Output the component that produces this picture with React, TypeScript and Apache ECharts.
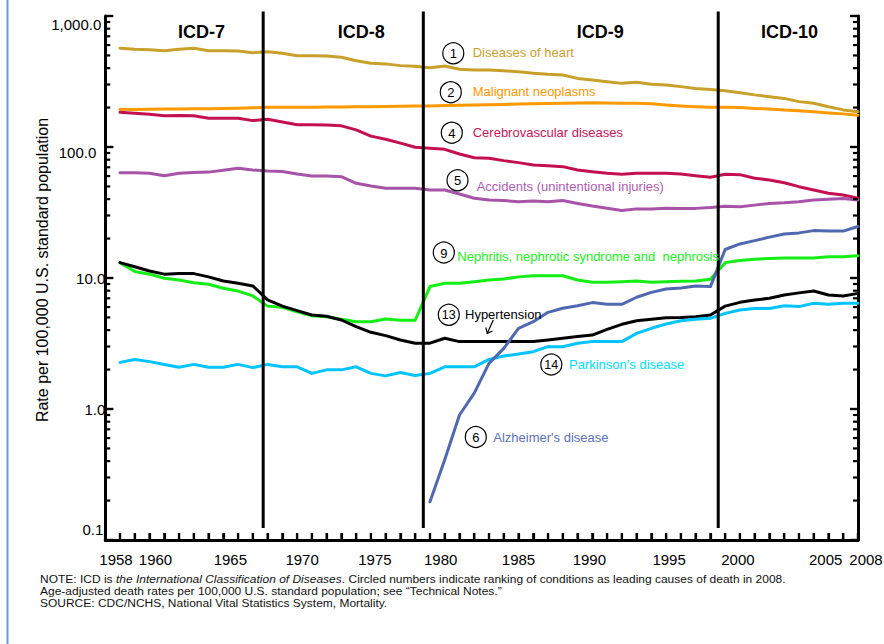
import React, { useEffect, useRef } from "react";
import * as echarts from "echarts";

// ---------------- data ----------------
const YEARS = [
  1958, 1959, 1960, 1961, 1962, 1963, 1964, 1965, 1966, 1967, 1968, 1969, 1970,
  1971, 1972, 1973, 1974, 1975, 1976, 1977, 1978, 1979, 1980, 1981, 1982, 1983,
  1984, 1985, 1986, 1987, 1988, 1989, 1990, 1991, 1992, 1993, 1994, 1995, 1996,
  1997, 1998, 1999, 2000, 2001, 2002, 2003, 2004, 2005, 2006, 2007, 2008,
];

const HEART = [
  567, 557, 553, 543, 557, 567, 543, 543, 541, 525, 534, 519, 498, 498, 496, 484,
  456, 436, 431, 418, 413, 403, 415, 392, 387, 387, 382, 376, 366, 359, 355, 334,
  325, 315, 306, 312, 301, 297, 289, 280, 275, 269, 260, 250, 242, 235, 222, 216,
  203, 192, 186,
];
const MALIGNANT = [
  194, 193, 194, 195, 195, 196, 196, 197, 198, 199, 201, 201, 201, 201, 202, 202,
  203, 203, 204, 205, 206, 206, 207, 208, 209, 210, 211, 213, 214, 215, 216, 217,
  218, 217, 216, 216, 214, 209, 206, 203, 201, 201, 200, 197, 195, 192, 189, 186,
  182, 179, 175,
];
const CEREBRO = [
  184, 181, 178, 173, 174, 173, 166, 166, 166, 159, 163, 155, 148, 148, 147, 145,
  135, 121, 114.5, 107, 99.5, 97.8, 96, 88.5, 82.8, 82, 78.7, 76, 73, 72, 70.8,
  66.8, 64.7, 63, 62, 63, 63, 63, 62.3, 60.4, 58.7, 62, 61.5, 57.7, 56, 53.4,
  49.8, 47, 44.3, 43, 40.6,
];
const ACCIDENTS = [
  63.7, 63.7, 63, 60.4, 63, 64, 64.3, 66.4, 68.7, 66.8, 65.6, 65, 62.2, 60.1, 60,
  59.3, 52.8, 50.4, 48.4, 48.4, 48.4, 47, 47, 43.8, 40.6, 39.4, 39, 38.2, 38.7,
  38.2, 39, 37.1, 35.4, 34.1, 32.7, 33.7, 33.7, 34.1, 34, 34, 34.5, 35.3, 35, 36,
  37.1, 37.5, 38.2, 39.4, 40, 40.5, 39.4,
];
const NEPHRITIS = [
  13.1, 11.2, 10.7, 9.95, 9.66, 9.2, 8.95, 8.35, 7.95, 7.3, 6.1, 5.97, 5.53, 5.15,
  5.05, 4.84, 4.64, 4.64, 4.86, 4.76, 4.76, 8.6, 9.12, 9.12, 9.38, 9.66, 9.83,
  10.2, 10.4, 10.4, 10.4, 9.66, 9.27, 9.27, 9.38, 9.48, 9.27, 9.38, 9.45, 9.5,
  9.77, 13.1, 13.6, 13.9, 14.1, 14.2, 14.2, 14.2, 14.5, 14.5, 14.8,
];
const HYPERTENSION = [
  13.1, 12.2, 11.3, 10.7, 10.8, 10.8, 10.2, 9.48, 9.12, 8.7, 6.8, 6.1, 5.63, 5.22,
  5.1, 4.78, 4.25, 3.85, 3.63, 3.36, 3.18, 3.18, 3.47, 3.27, 3.27, 3.27, 3.27,
  3.27, 3.27, 3.36, 3.47, 3.57, 3.67, 4.05, 4.43, 4.72, 4.84, 4.97, 5.0, 5.07,
  5.22, 6.1, 6.52, 6.8, 7.0, 7.41, 7.7, 7.96, 7.41, 7.3, 7.63,
];
const PARKINSON = [
  2.27, 2.39, 2.3, 2.19, 2.08, 2.19, 2.08, 2.08, 2.19, 2.07, 2.19, 2.1, 2.1, 1.87,
  1.99, 1.99, 2.1, 1.87, 1.79, 1.9, 1.8, 1.87, 2.1, 2.1, 2.1, 2.39, 2.54, 2.63,
  2.74, 2.99, 2.99, 3.18, 3.27, 3.27, 3.27, 3.78, 4.13, 4.46, 4.72, 4.84, 4.92,
  5.37, 5.7, 5.85, 5.85, 6.15, 6.05, 6.41, 6.3, 6.41, 6.41,
];
const ALZHEIMER = [
  null, null, null, null, null, null, null, null, null, null, null, null, null,
  null, null, null, null, null, null, null, null, 0.196, 0.41, 0.9, 1.32, 2.23,
  2.9, 4.13, 4.64, 5.47, 5.87, 6.15, 6.49, 6.3, 6.3, 7.13, 7.77, 8.24, 8.4, 8.7,
  8.6, 16.5, 18.2, 19.3, 20.5, 21.7, 22.1, 23, 22.8, 22.8, 24.7,
];

// ICD revision boundaries (year) and labels
const ICD_BOUNDARIES = [1967.7, 1978.55, 1998.53];
const ICD_LABELS = ["ICD-7", "ICD-8", "ICD-9", "ICD-10"];

// axis ticks and tick labels
const X_LABEL_YEARS = [1958, 1960, 1965, 1970, 1975, 1980, 1985, 1990, 1995, 2000, 2005, 2008];
const Y_TICK_TEXT = ["0.1", "1.0", "10.0", "100.0", "1,000.0"];
const Y_MAJOR_TICKS = [0.1, 1, 10, 100, 1000];
const Y_MINOR_TICKS = [
  0.2, 0.3, 0.4, 0.5, 0.6, 0.7, 0.8, 0.9, 2, 3, 4, 5, 6, 7, 8, 9, 20, 30, 40, 50,
  60, 70, 80, 90, 200, 300, 400, 500, 600, 700, 800, 900,
];

// ---------------- styling / layout ----------------
const FONT = "'Liberation Sans', Arial, Helvetica, sans-serif";
const COLORS = {
  heart: "#C8A02A",
  malignant: "#FF9900",
  cerebro: "#C4104F",
  accidents: "#A653A8",
  nephritis: "#14EE14",
  hypertension: "#000000",
  parkinson: "#00C4FF",
  alzheimer: "#5068B0",
};

const SERIES_DEF = [
  { name: "Malignant neoplasms", values: MALIGNANT, color: COLORS.malignant },
  { name: "Diseases of heart", values: HEART, color: COLORS.heart },
  { name: "Cerebrovascular diseases", values: CEREBRO, color: COLORS.cerebro },
  { name: "Accidents (unintentional injuries)", values: ACCIDENTS, color: COLORS.accidents },
  { name: "Nephritis, nephrotic syndrome and nephrosis", values: NEPHRITIS, color: COLORS.nephritis },
  { name: "Hypertension", values: HYPERTENSION, color: COLORS.hypertension },
  { name: "Parkinson's disease", values: PARKINSON, color: COLORS.parkinson },
  { name: "Alzheimer's disease", values: ALZHEIMER, color: COLORS.alzheimer },
];

// label annotation layout (pixels)
const ANNOTATIONS = [
  { num: "1", cx: 453.3, cy: 53.3, tx: 472.7, ty: 52.5, text: "Diseases of heart", color: "#C9A02C" },
  { num: "2", cx: 450.8, cy: 92.2, tx: 472.7, ty: 91.7, text: "Malignant neoplasms", color: "#FF9900" },
  { num: "4", cx: 451.8, cy: 132.7, tx: 472.7, ty: 132.5, text: "Cerebrovascular diseases", color: "#C8155A" },
  { num: "5", cx: 457.5, cy: 180.3, tx: 476.7, ty: 186, text: "Accidents (unintentional injuries)", color: "#B05AB0" },
  { num: "9", cx: 443.8, cy: 252.5, tx: 457.3, ty: 256.7, text: "Nephritis, nephrotic syndrome and  nephrosis", color: "#22EE22" },
  { num: "13", cx: 448.8, cy: 314.8, tx: 465, ty: 314.5, text: "Hypertension", color: "#000000" },
  { num: "14", cx: 551.3, cy: 364.5, tx: 569, ty: 364.2, text: "Parkinson's disease", color: "#00DDFF" },
  { num: "6", cx: 475.8, cy: 437, tx: 493.3, ty: 437, text: "Alzheimer's disease", color: "#5A72B8" },
];
const ICD_LABEL_X = [201.5, 361.2, 600.3, 789.5];

const X_LABEL_SHIFT: Record<number, number> = {
  1958: -4, 1960: 6, 1965: 7, 1970: 5, 1975: 4, 1980: -4, 1985: 0, 1990: -3,
  1995: 3, 2000: -2, 2005: 12, 2008: 8,
};
const Y_LABEL_PAD: number[][] = [
  [0, 2, 22, 0], // 0.1
  [0, 0, 0, 0], // 1
  [0, 0, 0, 0], // 10
  [10, 9, 0, 0], // 100
  [16, 4, 0, 0], // 1000
];

const NOTE_LINES = [
  "NOTE: ICD is {i|the International Classification of Diseases}. Circled numbers indicate ranking of conditions as leading causes of death in 2008.",
  "Age-adjusted death rates per 100,000 U.S. standard population; see \u201CTechnical Notes.\u201D",
  "SOURCE: CDC/NCHS, National Vital Statistics System, Mortality.",
];

export default function App() {
  const ref = useRef<HTMLDivElement>(null);

  useEffect(() => {
    if (!ref.current) return;
    const chart = echarts.init(ref.current, undefined, { renderer: "svg" });

    const tickFont = { fontSize: 15, fontFamily: FONT, color: "#000" };
    const xRich: Record<string, any> = {};
    X_LABEL_YEARS.forEach((y) => {
      const d = X_LABEL_SHIFT[y] || 0;
      xRich["x" + y] = {
        ...tickFont,
        padding: d >= 0 ? [0, 0, 0, 2 * d] : [0, -2 * d, 0, 0],
      };
    });
    const yRich: Record<string, any> = {};
    Y_TICK_TEXT.forEach((_, i) => {
      yRich["y" + i] = { ...tickFont, padding: Y_LABEL_PAD[i] };
    });

    const lineSeries = SERIES_DEF.map((s) => ({
      name: s.name,
      type: "line",
      data: YEARS.map((y, i) => [y, s.values[i]]),
      showSymbol: false,
      symbol: "none",
      connectNulls: false,
      lineStyle: { width: 3, color: s.color, cap: "round", join: "round" },
      itemStyle: { color: s.color },
      z: 3,
      silent: true,
    }));

    const axisLineStyle = { color: "#000", width: 3 };
    const tickStroke = { stroke: "#000", lineWidth: 2.2 };

    // y ticks (both sides) drawn through the y scale
    const yTickSeries = (name: string, values: number[], len: number) => ({
      name,
      type: "custom",
      silent: true,
      z: 5,
      data: values.map((v) => [1957, v]),
      renderItem: (params: any, api: any) => {
        const cs = params.coordSys;
        const y = api.coord([api.value(0), api.value(1)])[1];
        return {
          type: "group",
          children: [
            { type: "line", shape: { x1: cs.x, y1: y, x2: cs.x + len, y2: y }, style: tickStroke },
            { type: "line", shape: { x1: cs.x + cs.width - len, y1: y, x2: cs.x + cs.width, y2: y }, style: tickStroke },
          ],
        };
      },
    });

    const option: any = {
      animation: false,
      backgroundColor: "#fff",
      grid: {
        left: 105.24,
        right: 26,
        top: 16,
        bottom: 104,
        containLabel: false,
        outerBoundsMode: "none",
      },
      xAxis: {
        type: "value",
        min: 1957,
        max: 2008,
        interval: 1,
        splitLine: { show: false },
        axisLine: { show: true, onZero: false, lineStyle: axisLineStyle },
        axisTick: { show: true, inside: true, length: 7, lineStyle: { color: "#000", width: 2.2 } },
        axisLabel: {
          margin: 12,
          showMinLabel: true,
          showMaxLabel: true,
          hideOverlap: false,
          ...tickFont,
          formatter: (v: number) =>
            X_LABEL_YEARS.indexOf(v) >= 0 ? `{x${v}|${v}}` : "",
          rich: xRich,
        },
      },
      yAxis: [
        {
          type: "log",
          logBase: 10,
          min: 0.1,
          max: 1000,
          position: "left",
          splitLine: { show: false },
          axisLine: { show: true, onZero: false, lineStyle: axisLineStyle },
          axisTick: { show: true, inside: true, length: 8, lineStyle: { color: "#000", width: 2.2 } },
          axisLabel: {
            margin: 0,
            ...tickFont,
            formatter: (v: number) => {
              const i = Math.round(Math.log10(v)) + 1;
              return Y_TICK_TEXT[i] ? `{y${i}|${Y_TICK_TEXT[i]}}` : "";
            },
            rich: yRich,
          },
        },
        {
          type: "log",
          logBase: 10,
          min: 0.1,
          max: 1000,
          position: "right",
          splitLine: { show: false },
          axisLine: { show: true, onZero: false, lineStyle: axisLineStyle },
          axisTick: { show: true, inside: true, length: 8, lineStyle: { color: "#000", width: 2.2 } },
          axisLabel: { show: false },
        },
      ],
      series: [
        ...lineSeries,
        yTickSeries("minor ticks", Y_MINOR_TICKS, 5),
        yTickSeries("major ticks", Y_MAJOR_TICKS, 8),
        {
          name: "year ticks",
          type: "custom",
          silent: true,
          z: 5,
          data: YEARS.map((y) => [y, 0.1]),
          renderItem: (params: any, api: any) => {
            const cs = params.coordSys;
            const x = api.coord([api.value(0), api.value(1)])[0];
            const yb = cs.y + cs.height;
            return {
              type: "line",
              shape: { x1: x, y1: yb, x2: x, y2: yb - 7 },
              style: tickStroke,
            };
          },
        },
        {
          name: "ICD revisions",
          type: "custom",
          silent: true,
          z: 10,
          data: ICD_BOUNDARIES.map((x) => [x, 1000]),
          renderItem: (params: any, api: any) => {
            const cs = params.coordSys;
            const x = api.coord([api.value(0), api.value(1)])[0];
            return {
              type: "line",
              shape: { x1: x, y1: cs.y - 4.5, x2: x, y2: cs.y + cs.height - 12 },
              style: { stroke: "#000", lineWidth: 3 },
            };
          },
        },
      ],
      graphic: [
        // left page border
        { type: "line", shape: { x1: 7.5, y1: 0, x2: 7.5, y2: 644 }, style: { stroke: "#6C9AD6", lineWidth: 2 }, silent: true },
        // y axis title
        {
          type: "text",
          x: 42,
          y: 270,
          rotation: Math.PI / 2,
          style: {
            text: "Rate per 100,000 U.S. standard population",
            fontSize: 16,
            fontFamily: FONT,
            fill: "#000",
            align: "center",
            verticalAlign: "middle",
          },
        },
        // ICD labels
        ...ICD_LABELS.map((t, i) => ({
          type: "text",
          x: ICD_LABEL_X[i],
          y: 32,
          z: 20,
          style: {
            text: t,
            fontSize: 18,
            fontWeight: "bold",
            fontFamily: FONT,
            fill: "#000",
            align: "center",
            verticalAlign: "middle",
          },
        })),
        // annotations
        ...ANNOTATIONS.flatMap((a) => [
          {
            type: "circle",
            shape: { cx: a.cx, cy: a.cy, r: 10.5 },
            style: { fill: "#fff", stroke: "#000", lineWidth: 1.2 },
            z: 20,
          },
          {
            type: "text",
            x: a.cx,
            y: a.cy + 0.5,
            z: 21,
            style: {
              text: a.num,
              fontSize: a.num.length > 1 ? 12.5 : 13,
              fontFamily: FONT,
              fill: "#000",
              align: "center",
              verticalAlign: "middle",
            },
          },
          {
            type: "text",
            x: a.tx,
            y: a.ty,
            z: 21,
            style: {
              text: a.text,
              fontSize: 13,
              fontFamily: FONT,
              fill: a.color,
              align: "left",
              verticalAlign: "middle",
            },
          },
        ]),
        // hypertension arrow
        { type: "line", shape: { x1: 493.3, y1: 320, x2: 487.3, y2: 333.3 }, style: { stroke: "#000", lineWidth: 1.2 }, z: 21 },
        {
          type: "polyline",
          shape: { points: [[485.8, 327.5], [487.3, 333.3], [492.5, 331]] },
          style: { stroke: "#000", lineWidth: 1.2, fill: null },
          z: 21,
        },
        // notes
        ...NOTE_LINES.map((t, i) => ({
          type: "text",
          x: 40,
          y: 579 + i * 12,
          scaleX: 1.09,
          style: {
            text: t,
            rich: { i: { fontStyle: "italic", fontSize: 11, fontFamily: FONT, fill: "#111" } },
            fontSize: 11,
            fontFamily: FONT,
            fill: "#111",
            align: "left",
            verticalAlign: "middle",
          },
        })),
      ],
    };

    chart.setOption(option);
    return () => chart.dispose();
  }, []);

  return (
    <div
      ref={ref}
      style={{ position: "absolute", left: 0, top: 0, width: 884, height: 644, background: "#fff" }}
    />
  );
}
